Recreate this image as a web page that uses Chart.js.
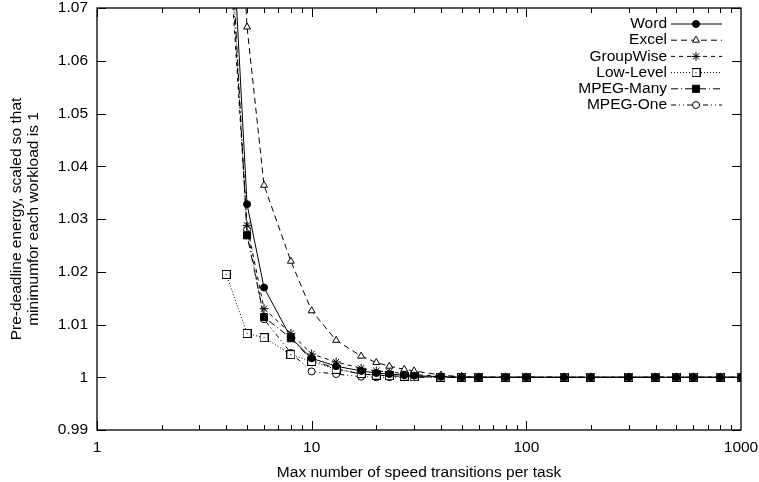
<!DOCTYPE html>
<html lang="en">
<head>
<meta charset="utf-8" />
<title>Pre-deadline energy vs. speed transitions</title>
<style>
  * { margin: 0; padding: 0; }
  body { background: #fff; }
</style>
</head>
<body>
<canvas id="myChart" width="759" height="482"></canvas>

<script src="https://cdn.jsdelivr.net/npm/chart.js"></script>
<script>
// data block
const transitions = [4, 5, 6, 8, 10, 13, 17, 20, 23, 27, 30, 40, 50, 60, 80, 100, 150, 200, 300, 400, 500, 600, 800, 1000];

const word      = [1.107, 1.0328, 1.017, 1.0075, 1.0036, 1.0021, 1.0012, 1.0008, 1.0006, 1.0004, 1.0003, 1.0001, 1.0, 1.0, 1.0, 1.0, 1.0, 1.0, 1.0, 1.0, 1.0, 1.0, 1.0, 1.0];
const excel     = [1.14, 1.0664, 1.0364, 1.022, 1.0126, 1.007, 1.004, 1.0028, 1.0021, 1.0015, 1.0012, 1.0004, 1.0001, 1.0, 1.0, 1.0, 1.0, 1.0, 1.0, 1.0, 1.0, 1.0, 1.0, 1.0];
const groupWise = [1.09, 1.0288, 1.013, 1.0083, 1.0044, 1.0029, 1.0017, 1.0012, 1.001, 1.0007, 1.0005, 1.0002, 1.0001, 1.0, 1.0, 1.0, 1.0, 1.0, 1.0, 1.0, 1.0, 1.0, 1.0, 1.0];
const lowLevel  = [1.0195, 1.0083, 1.0075, 1.0043, 1.003, 1.0015, 1.0007, 1.0004, 1.0003, 1.0002, 1.0001, 1.0, 1.0, 1.0, 1.0, 1.0, 1.0, 1.0, 1.0, 1.0, 1.0, 1.0, 1.0, 1.0];
const mpegMany  = [1.10, 1.0269, 1.0114, 1.0074, 1.0033, 1.0016, 1.0006, 1.0004, 1.0003, 1.0001, 1.0001, 1.0, 1.0, 1.0, 1.0, 1.0, 1.0, 1.0, 1.0, 1.0, 1.0, 1.0, 1.0, 1.0];
const mpegOne   = [1.095, 1.028, 1.011, 1.0046, 1.0011, 1.0006, 1.0001, 1.0, 1.0, 1.0, 1.0, 1.0, 1.0, 1.0, 1.0, 1.0, 1.0, 1.0, 1.0, 1.0, 1.0, 1.0, 1.0, 1.0];

const xTicks = [1, 10, 100, 1000];
const yTicks = [0.99, 1, 1.01, 1.02, 1.03, 1.04, 1.05, 1.06, 1.07];

const FONT = { family: '"Liberation Sans", Arial, sans-serif', size: 15.5, lineHeight: 1.05 };

// gnuplot style open square with a dot in the middle
const boxDot = document.createElement("canvas");
boxDot.width = 9;
boxDot.height = 9;
(() => {
  const c = boxDot.getContext("2d");
  c.fillStyle = "#fff";
  c.fillRect(0, 0, 9, 9);
  c.strokeStyle = "#000";
  c.lineWidth = 1;
  c.strokeRect(0.5, 0.5, 8, 8);
  c.fillStyle = "#000";
  c.fillRect(4, 4, 1, 1);
})();

const pts = (ys) => transitions.map((t, i) => ({ x: t, y: ys[i] }));

const series = (label, ys, dash, style, radius, fill) => ({
  label: label,
  data: pts(ys),
  borderColor: "#000",
  borderWidth: 1,
  borderDash: dash,
  pointStyle: style,
  pointRadius: radius,
  pointBorderColor: "#000",
  pointBackgroundColor: fill,
  pointBorderWidth: 1,
  tension: 0,
});

const data = {
  datasets: [
    series("Word", word, [], "circle", 3.5, "#000"),
    series("Excel", excel, [6, 4], "triangle", 4, "#fff"),
    series("GroupWise", groupWise, [4, 4], "star", 4.5, "#fff"),
    series("Low-Level", lowLevel, [1, 2], boxDot, 4.5, "#fff"),
    series("MPEG-Many", mpegMany, [7, 3, 1, 3], "rect", 5, "#000"),
    series("MPEG-One", mpegOne, [5, 3, 1, 3, 1, 3], "circle", 3.5, "#fff"),
  ],
};

// frame + inward ticks on all four sides, gnuplot style
const gnuFrame = {
  id: "gnuFrame",
  afterDatasetsDraw(chart) {
    const { ctx, chartArea: { left, right, top, bottom }, scales: { x, y } } = chart;
    ctx.save();
    ctx.strokeStyle = "#000";
    ctx.lineWidth = 1;
    ctx.beginPath();
    for (let d = 1; d < 1000; d *= 10) {
      for (let k = 1; k < 10; k++) {
        const px = Math.round(x.getPixelForValue(d * k)) + 0.5;
        const len = k === 1 ? 9 : 5;
        ctx.moveTo(px, bottom);
        ctx.lineTo(px, bottom - len);
        ctx.moveTo(px, top);
        ctx.lineTo(px, top + len);
      }
    }
    yTicks.forEach((v) => {
      const py = Math.round(y.getPixelForValue(v)) + 0.5;
      ctx.moveTo(left, py);
      ctx.lineTo(left + 9, py);
      ctx.moveTo(right, py);
      ctx.lineTo(right - 9, py);
    });
    ctx.stroke();
    ctx.lineWidth = 1.3;
    ctx.strokeRect(left, top, right - left, bottom - top);
    ctx.restore();
  },
};

// legend inside the plot, top right
const legendBox = {
  id: "legendBox",
  afterDatasetsDraw(chart) {
    const { ctx } = chart;
    ctx.save();
    ctx.font = FONT.size + "px " + FONT.family;
    ctx.textAlign = "right";
    ctx.textBaseline = "middle";
    chart.data.datasets.forEach((ds, i) => {
      const ly = 24 + i * 16.2;
      ctx.fillStyle = "#000";
      ctx.fillText(ds.label, 667, ly);
      ctx.beginPath();
      ctx.lineWidth = 1;
      ctx.strokeStyle = "#000";
      ctx.setLineDash(ds.borderDash);
      ctx.moveTo(671, ly);
      ctx.lineTo(722, ly);
      ctx.stroke();
      ctx.setLineDash([]);
      ctx.fillStyle = ds.pointBackgroundColor;
      Chart.helpers.drawPoint(ctx, { pointStyle: ds.pointStyle, radius: ds.pointRadius, rotation: 0, borderWidth: 1 }, 696, ly);
    });
    ctx.restore();
  },
};

// config block
const config = {
  type: "line",
  data: data,
  options: {
    responsive: false,
    animation: false,
    layout: { padding: { top: 8, right: 18, left: 0, bottom: 0 } },
    plugins: { legend: { display: false }, tooltip: { enabled: false } },
    scales: {
      x: {
        type: "logarithmic",
        min: 1,
        max: 1000,
        afterBuildTicks: (s) => { s.ticks = xTicks.map((v) => ({ value: v })); },
        afterFit: (s) => {
          s.height = 52;
          s.paddingLeft = 0;
          s.paddingRight = 0;
        },
        grid: { display: false, drawTicks: false },
        border: { display: false },
        ticks: { autoSkip: false, maxRotation: 0, padding: 10, color: "#000", font: FONT, callback: (v) => String(v) },
        title: { display: true, text: "Max number of speed transitions per task", color: "#000", font: FONT, padding: { top: 0, bottom: 1 } },
      },
      y: {
        min: 0.99,
        max: 1.07,
        afterBuildTicks: (s) => { s.ticks = yTicks.map((v) => ({ value: v })); },
        afterFit: (s) => {
          s.width = 97;
          s.paddingTop = 0;
          s.paddingBottom = 0;
        },
        grid: { display: false, drawTicks: false },
        border: { display: false },
        ticks: { padding: 9, color: "#000", font: FONT, callback: (v) => String(v) },
        title: {
          display: true,
          text: ["Pre-deadline energy, scaled so that", "minimumfor each workload is 1"],
          color: "#000",
          font: FONT,
          padding: { top: 9, bottom: 0 },
        },
      },
    },
  },
  plugins: [gnuFrame, legendBox],
};

// init render block
const myChart = new Chart(document.getElementById("myChart"), config);
</script>
</body>
</html>
